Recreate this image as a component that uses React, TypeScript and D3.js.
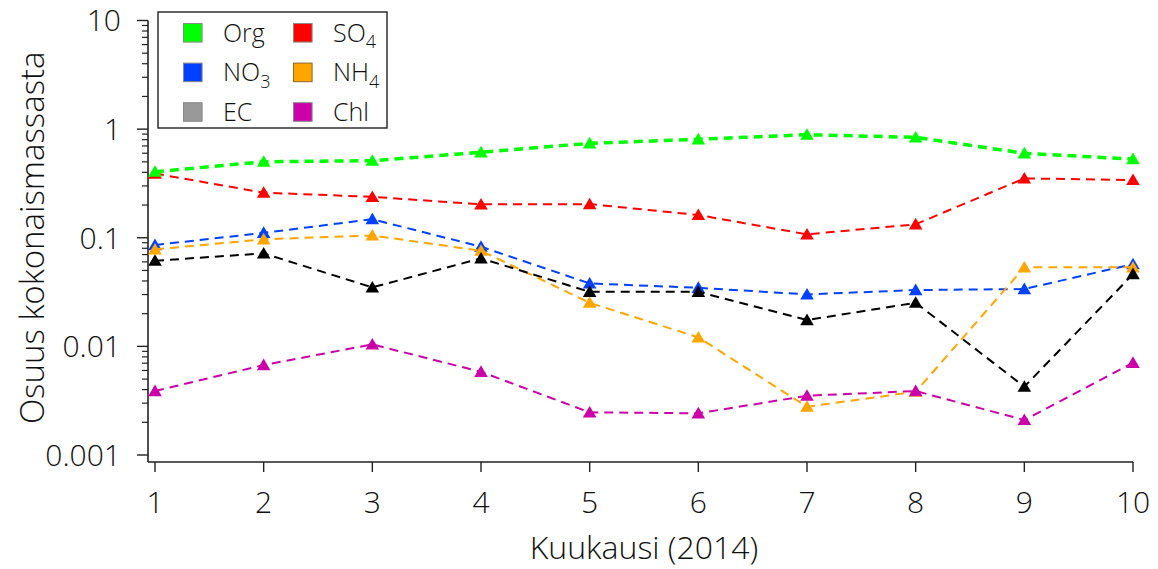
import React from "react";
import * as d3 from "d3";

// Months of 2014
const months = [1, 2, 3, 4, 5, 6, 7, 8, 9, 10];

// Mass fraction of each component per month
const org = [0.405, 0.501, 0.512, 0.612, 0.74, 0.806, 0.888, 0.84, 0.599, 0.53];
const so4 = [0.39, 0.26, 0.238, 0.203, 0.204, 0.162, 0.1075, 0.133, 0.352, 0.34];
const no3 = [0.0857, 0.111, 0.148, 0.0827, 0.038, 0.0346, 0.0301, 0.033, 0.0337, 0.0572];
const nh4 = [0.0782, 0.0967, 0.105, 0.0759, 0.0252, 0.0121, 0.00278, 0.00382, 0.0534, 0.0534];
const ec = [0.0614, 0.0718, 0.0349, 0.0646, 0.0318, 0.0318, 0.01747, 0.0252, 0.00425, 0.0463];
const chl = [0.00388, 0.00673, 0.01043, 0.00583, 0.00247, 0.00242, 0.00351, 0.00388, 0.0021, 0.00706];

const yTicks = [0.001, 0.01, 0.1, 1, 10];
const yTickLabels = ["0.001", "0.01", "0.1", "1", "10"];

const series = [
  { key: "SO4", values: so4, line: "#ff0000", width: 2 },
  { key: "Org", values: org, line: "#00ff00", width: 3.5 },
  { key: "NO3", values: no3, line: "#0041ff", width: 2 },
  { key: "NH4", values: nh4, line: "#ffa500", width: 2 },
  { key: "EC", values: ec, line: "#000000", width: 2 },
  { key: "Chl", values: chl, line: "#cc00a8", width: 2 },
];

const legendItems = [
  { name: "Org", sub: "", fill: "#00ff00", stroke: "#8a8a8a" },
  { name: "SO", sub: "4", fill: "#ff0000", stroke: "#8a8a8a" },
  { name: "NO", sub: "3", fill: "#0041ff", stroke: "#8a8a8a" },
  { name: "NH", sub: "4", fill: "#ffa500", stroke: "#8a6a20" },
  { name: "EC", sub: "", fill: "#999999", stroke: "#8a8a8a" },
  { name: "Chl", sub: "", fill: "#cc00a8", stroke: "#8a8a8a" },
];

const W = 1158;
const H = 569;
const FONT = "'Open Sans', sans-serif";

export default function App() {
  const x = d3.scaleLinear().domain([1, 10]).range([155, 1133]);
  const y = d3.scaleLog().domain([0.001, 10]).range([455, 20.5]);
  const axisX = 148;
  const axisY = 462;

  const line = d3
    .line<number>()
    .x((_, i) => x(months[i]))
    .y((v) => y(v));

  const minor: number[] = [];
  for (let e = -3; e < 1; e++) {
    for (let m = 2; m <= 9; m++) minor.push(m * Math.pow(10, e));
  }

  const tri = (cx: number, cy: number) => {
    const s = 6.8;
    return `M${cx},${cy - s * 0.95}L${cx + s},${cy + s * 0.75}L${cx - s},${cy + s * 0.75}Z`;
  };

  return (
    <svg
      width={W}
      height={H}
      style={{ position: "absolute", left: 0, top: 0, background: "#fff" }}
      fontFamily={FONT}
    >
      <rect width={W} height={H} fill="#fff" />

      {/* y axis */}
      <line x1={axisX} x2={axisX} y1={y(10)} y2={axisY} stroke="#222" strokeWidth={1.6} />
      {yTicks.map((t, i) => (
        <g key={t}>
          <line x1={axisX - 11} x2={axisX} y1={y(t)} y2={y(t)} stroke="#222" strokeWidth={1.4} />
          <text
            x={121}
            y={y(t)}
            dy="0.36em"
            textAnchor="end"
            fontSize={30}
            fontWeight={300}
            fill="#111"
          >
            {yTickLabels[i]}
          </text>
        </g>
      ))}
      {minor.map((t) => (
        <line key={t} x1={axisX - 6} x2={axisX} y1={y(t)} y2={y(t)} stroke="#222" strokeWidth={1.2} />
      ))}

      {/* x axis */}
      <line x1={axisX} x2={x(10)} y1={axisY} y2={axisY} stroke="#222" strokeWidth={1.6} />
      {months.map((m) => (
        <g key={m}>
          <line x1={x(m)} x2={x(m)} y1={axisY} y2={axisY + 10} stroke="#222" strokeWidth={1.4} />
          <text x={x(m)} y={513} textAnchor="middle" fontSize={30} fontWeight={300} fill="#111">
            {m}
          </text>
        </g>
      ))}

      <text x={644} y={559} textAnchor="middle" fontSize={32} fontWeight={300} fill="#111">
        Kuukausi (2014)
      </text>
      <text
        transform={`translate(44,${(y(10) + y(0.001)) / 2}) rotate(-90)`}
        textAnchor="middle"
        fontSize={33}
        fontWeight={300}
        fill="#111"
      >
        Osuus kokonaismassasta
      </text>

      {/* series */}
      {series.map((s) => (
        <g key={s.key}>
          <path
            d={line(s.values) || ""}
            fill="none"
            stroke={s.line}
            strokeWidth={s.width}
            strokeDasharray="9 6"
          />
          {s.values.map((v, i) => (
            <path key={i} d={tri(x(months[i]), y(v))} fill={s.line} />
          ))}
        </g>
      ))}

      {/* legend */}
      <rect x={158} y={12} width={229} height={116} fill="#fff" stroke="#222" strokeWidth={1.4} />
      {legendItems.map((it, i) => {
        const col = i % 2;
        const row = Math.floor(i / 2);
        const sx = col === 0 ? 183.5 : 293.5;
        const cy = 32.8 + row * 39.6;
        const tx = col === 0 ? 223 : 333;
        return (
          <g key={it.name + it.sub}>
            <rect x={sx} y={cy - 9.3} width={18.6} height={18.6} fill={it.fill} stroke={it.stroke} strokeWidth={1} />
            <text x={tx} y={cy} dy="0.36em" fontSize={25} fontWeight={300} fill="#111">
              {it.name}
              {it.sub && (
                <tspan fontSize={18} dy="0.35em">
                  {it.sub}
                </tspan>
              )}
            </text>
          </g>
        );
      })}
    </svg>
  );
}
